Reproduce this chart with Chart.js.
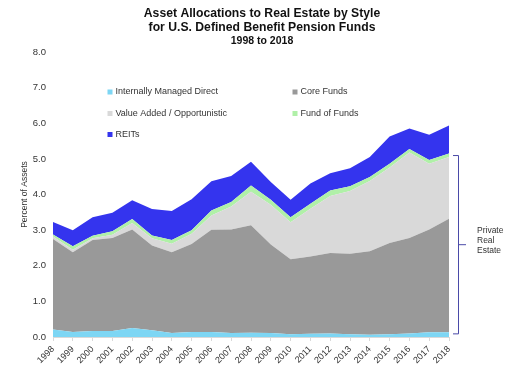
<!DOCTYPE html>
<html>
<head>
<meta charset="utf-8">
<script src="https://cdn.jsdelivr.net/npm/chart.js@4"></script>
<style>
html,body{margin:0;padding:0;background:#fff;}
#wrap{width:524px;height:381px;position:relative;}
</style>
</head>
<body>
<div id="wrap"><canvas id="c" width="524" height="381"></canvas></div>
<script>
const years = ['1998','1999','2000','2001','2002','2003','2004','2005','2006','2007','2008','2009','2010','2011','2012','2013','2014','2015','2016','2017','2018'];
const directVals = [0.21,0.14,0.17,0.17,0.25,0.19,0.11,0.14,0.14,0.11,0.12,0.11,0.08,0.09,0.10,0.08,0.06,0.08,0.10,0.13,0.13];
const coreVals = [2.54,2.24,2.55,2.61,2.77,2.38,2.27,2.47,2.87,2.91,3.02,2.49,2.10,2.17,2.26,2.26,2.35,2.56,2.68,2.89,3.19];
const valueAddedVals = [0.07,0.07,0.05,0.09,0.18,0.20,0.24,0.29,0.40,0.64,0.94,1.11,1.04,1.34,1.60,1.76,1.97,2.12,2.40,1.84,1.73];
const fofVals = [0.06,0.10,0.07,0.10,0.11,0.08,0.10,0.10,0.14,0.13,0.17,0.14,0.14,0.14,0.15,0.13,0.11,0.10,0.10,0.11,0.10];
const reitsVals = [0.35,0.45,0.52,0.52,0.53,0.74,0.82,0.87,0.82,0.73,0.67,0.50,0.49,0.57,0.49,0.51,0.56,0.77,0.57,0.71,0.79];
const seriesNames = ['Internally Managed Direct','Core Funds','Value Added / Opportunistic','Fund of Funds','REITs'];
const yTicks = [0,1,2,3,4,5,6,7,8];
const titleLines = ['Asset Allocations to Real Estate by Style','for U.S. Defined Benefit Pension Funds'];
const subTitle = '1998 to 2018';
const yTitle = 'Percent of Assets';
const bracketLabel = ['Private','Real','Estate'];

const colors = ['#7dd6f4','#999999','#d9d9d9','#b0f0a8','#3434ee'];
const allVals = [directVals,coreVals,valueAddedVals,fofVals,reitsVals];
const FONT = '"Liberation Sans", Arial, sans-serif';

const datasets = allVals.map((v,i)=>({
  label: seriesNames[i],
  data: v,
  backgroundColor: colors[i],
  borderColor: colors[i],
  borderWidth: 0,
  pointRadius: 0,
  tension: 0,
  fill: i===0 ? 'origin' : '-1'
}));

const decor = {
  id:'decor',
  afterDraw(chart){
    const ctx = chart.ctx;
    const ca = chart.chartArea;
    ctx.save();
    // titles
    ctx.fillStyle = '#111';
    ctx.textAlign = 'center';
    ctx.textBaseline = 'middle';
    ctx.font = 'bold 12.2px ' + FONT;
    ctx.fillText(titleLines[0], 262, 13.5);
    ctx.fillText(titleLines[1], 262, 27.5);
    ctx.font = 'bold 10.5px ' + FONT;
    ctx.fillText(subTitle, 262, 41);
    // legend
    const pos = [[110,92],[295,92],[110,113.5],[295,113.5],[110,134.5]];
    ctx.textAlign = 'left';
    ctx.font = '9px ' + FONT;
    chart.data.datasets.forEach((ds,i)=>{
      const [x,y] = pos[i];
      ctx.fillStyle = ds.backgroundColor;
      ctx.fillRect(x-2.5, y-2.5, 5, 5);
      ctx.fillStyle = '#333';
      ctx.fillText(ds.label, x+5.5, y);
    });
    // bracket for private real estate
    const ys = chart.scales.y;
    const last = years.length-1;
    const topVal = directVals[last]+coreVals[last]+valueAddedVals[last]+fofVals[last];
    const botVal = directVals[last];
    const yTop = ys.getPixelForValue(topVal)+1.5;
    const yBot = ys.getPixelForValue(botVal)+1;
    const xl = ca.right+4, xv = ca.right+9;
    const yMid = (yTop+yBot)/2;
    ctx.strokeStyle = '#4a4aa8';
    ctx.lineWidth = 1;
    ctx.beginPath();
    ctx.moveTo(xl, yTop+0.5); ctx.lineTo(xv+0.5, yTop+0.5);
    ctx.lineTo(xv+0.5, yBot+0.5); ctx.lineTo(xl, yBot+0.5);
    ctx.moveTo(xv+0.5, yMid+0.5); ctx.lineTo(xv+8, yMid+0.5);
    ctx.stroke();
    ctx.fillStyle = '#333';
    ctx.font = '8.5px ' + FONT;
    bracketLabel.forEach((t,i)=>{
      ctx.fillText(t, 477, yMid-14+i*10);
    });
    ctx.restore();
  }
};

new Chart(document.getElementById('c'), {
  type:'line',
  data:{labels:years, datasets},
  options:{
    responsive:false,
    animation:false,
    devicePixelRatio:1,
    layout:{padding:{top:52,right:75,left:0,bottom:0}},
    plugins:{legend:{display:false}, title:{display:false}, tooltip:{enabled:false}, filler:{propagate:false}},
    elements:{line:{borderWidth:0}},
    scales:{
      x:{
        offset:false,
        grid:{display:true, drawOnChartArea:false, drawTicks:true, tickLength:4, color:'#d9d9d9'},
        border:{display:true, color:'#d9d9d9'},
        ticks:{maxRotation:45, minRotation:45, autoSkip:false, color:'#333', font:{family:FONT, size:9}, padding:3},
        afterFit(s){ s.height = 44; }
      },
      y:{
        stacked:true,
        min:0, max:8,
        afterBuildTicks(s){ s.ticks = yTicks.map(v=>({value:v})); },
        grid:{display:false, drawTicks:false},
        border:{display:false},
        ticks:{color:'#333', font:{family:FONT, size:9.5}, padding:7, callback:v=>Number(v).toFixed(1)},
        title:{display:true, text:yTitle, color:'#333', font:{family:FONT, size:8.5}, padding:{top:20,bottom:0}},
        afterFit(s){ s.width = 53; }
      }
    }
  },
  plugins:[decor]
});
</script>
</body>
</html>
